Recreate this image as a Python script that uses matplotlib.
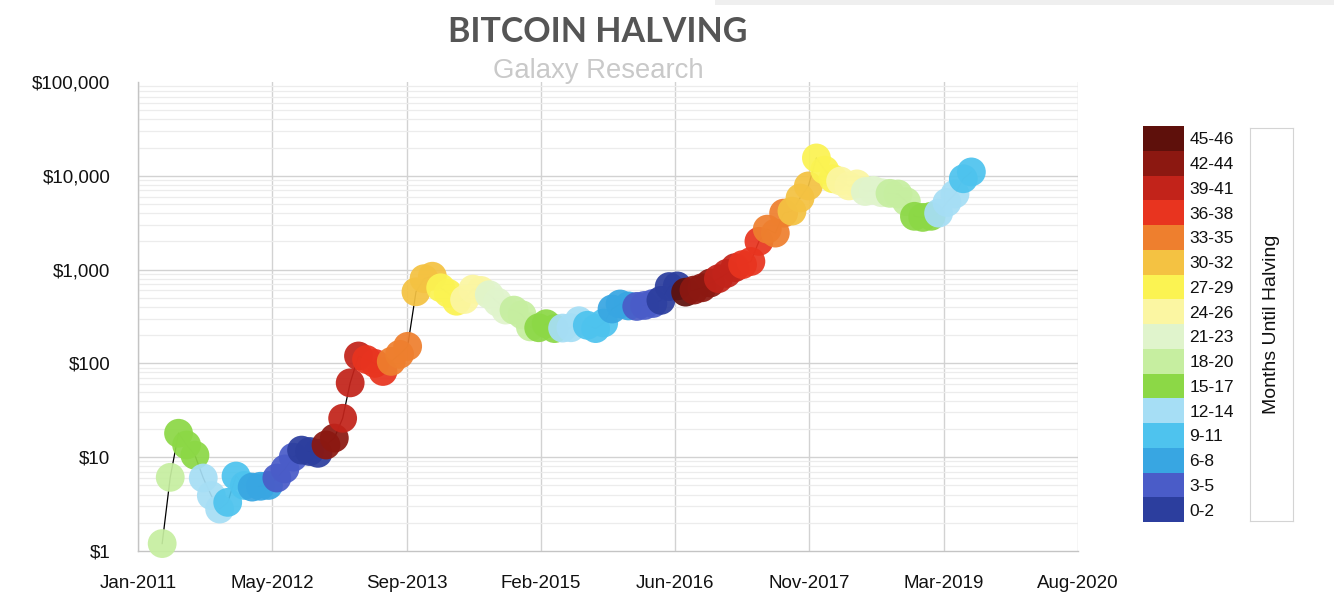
import matplotlib
matplotlib.use("Agg")
import matplotlib.pyplot as plt
import matplotlib.dates as mdates
from matplotlib.ticker import FixedLocator, NullFormatter
import numpy as np
import pandas as pd

# monthly average BTC price, Apr 2011 .. Jul 2019
START_MONTH = "2011-04-01"
prices = [
    # 2011 Apr-Dec
    1.2, 6.1, 18, 13.5, 10.5, 6.0, 3.9, 2.8, 3.3,
    # 2012
    6.3, 5.0, 4.8, 4.9, 5.0, 6.0, 7.5, 10.0, 11.9, 11.5, 11.0, 13.5,
    # 2013
    16, 26, 62, 120, 110, 100, 82, 105, 125, 152, 580, 800,
    # 2014
    850, 640, 560, 460, 480, 620, 600, 540, 450, 370, 370, 330,
    # 2015
    245, 240, 265, 235, 238, 240, 285, 255, 235, 270, 380, 430,
    # 2016
    410, 405, 415, 435, 470, 660, 670, 575, 605, 640, 720, 800,
    # 2017
    910, 1050, 1130, 1220, 2000, 2700, 2450, 4000, 4200, 5800, 7800, 15500,
    # 2018
    11500, 9300, 8800, 7800, 8200, 6800, 7000, 6600, 6500, 6400, 5300, 3700,
    # 2019 Jan-Jul
    3600, 3700, 4000, 5200, 6400, 9300, 11000,
]

halving_dates = ["2012-11-28", "2016-07-09", "2020-05-11"]

bin_labels = ["0-2", "3-5", "6-8", "9-11", "12-14", "15-17", "18-20", "21-23",
              "24-26", "27-29", "30-32", "33-35", "36-38", "39-41", "42-44", "45-46"]
bin_colors = ["#2c3e9e", "#4a5cc8", "#38a6e2", "#4ec3ee", "#a6def5", "#8cd846",
              "#c6eea0", "#e0f4cc", "#fbf6a2", "#fbf352", "#f4c242", "#ee7f2e",
              "#e8341f", "#c2231a", "#8c1811", "#5e100b"]

x_ticks = pd.date_range("2011-01-01", periods=8, freq="500D")
y_ticks = [1, 10, 100, 1000, 10000, 100000]
y_tick_labels = ["$1", "$10", "$100", "$1,000", "$10,000", "$100,000"]

W, H = 1334, 614


def months_until_halving(dates):
    halvings = pd.to_datetime(halving_dates)
    out = []
    for d in dates:
        h = [x for x in halvings if x > d][0]
        out.append((h.year - d.year) * 12 + h.month - d.month)
    return np.array(out)


def fx(px):
    return px / W


def fy(py):
    return 1 - py / H


dates = pd.date_range(START_MONTH, periods=len(prices), freq="MS")
months_left = months_until_halving(dates)
bins = np.minimum(months_left // 3, len(bin_labels) - 1)
point_colors = [bin_colors[b] for b in bins]

plt.rcParams["font.family"] = ["Liberation Sans", "DejaVu Sans"]

fig = plt.figure(figsize=(W / 100, H / 100), dpi=100)
fig.patches.append(plt.Rectangle((fx(715), fy(5)), fx(W - 715), 5 / H,
                                 transform=fig.transFigure, color="#efefef", lw=0))

ax = fig.add_axes([fx(138), fy(551), fx(1078 - 138), (551 - 82) / H])
ax.set_yscale("log")
ax.set_ylim(1, 100000)
ax.set_xlim(pd.Timestamp("2011-01-01"), pd.Timestamp("2020-08-01"))

# grid: decade lines below the top edge, lighter minor lines, date lines
ax.yaxis.set_major_locator(FixedLocator(y_ticks))
ax.set_yticklabels(y_tick_labels)
minor = [m * 10 ** e for e in range(0, 5) for m in range(2, 10)]
ax.yaxis.set_minor_locator(FixedLocator(minor))
ax.yaxis.set_minor_formatter(NullFormatter())
ax.grid(True, which="minor", axis="y", color="#ececec", lw=0.9)
for yv in y_ticks[1:-1]:
    ax.axhline(yv, color="#d2d2d2", lw=1.0, zorder=0.5)
ax.set_xticks(x_ticks)
ax.xaxis.set_major_formatter(mdates.DateFormatter("%b-%Y"))
ax.grid(True, which="major", axis="x", color="#d2d2d2", lw=1.0)
ax.set_axisbelow(True)

for s in ["top", "right"]:
    ax.spines[s].set_visible(False)
for s in ["left", "bottom"]:
    ax.spines[s].set_color("#c4c4c4")
    ax.spines[s].set_linewidth(1.0)
ax.tick_params(axis="both", which="both", length=0, labelsize=13.5, colors="#111111")
ax.tick_params(axis="y", pad=20)
ax.tick_params(axis="x", pad=17)

# path and points
ax.plot(dates, prices, color="black", lw=0.9, zorder=2)
ax.scatter(dates, prices, c=point_colors, s=430, alpha=0.93, edgecolors="none",
           zorder=3, clip_on=False)

# titles
fig.text(fx(598), fy(42), "BITCOIN HALVING", ha="center", va="baseline",
         fontsize=24.5, fontweight="bold", color="#555555", family=["Lato", "DejaVu Sans"])
fig.text(fx(598), fy(78), "Galaxy Research", ha="center", va="baseline",
         fontsize=19.8, color="#c9c9c9")

# colour legend
lax = fig.add_axes([fx(1143), fy(522), fx(1184 - 1143), (522 - 126) / H])
lax.barh(np.arange(len(bin_labels)), 1, height=1, color=bin_colors, align="edge")
lax.set_xlim(0, 1)
lax.set_ylim(0, len(bin_labels))
lax.set_xticks([])
lax.yaxis.tick_right()
lax.set_yticks(np.arange(len(bin_labels)) + 0.5)
lax.set_yticklabels(bin_labels)
lax.tick_params(length=0, labelsize=12.5, pad=4, colors="#111111")
for s in lax.spines.values():
    s.set_visible(False)

box = fig.add_axes([fx(1250), fy(521), fx(1293 - 1250), (521 - 128) / H])
box.set_xticks([])
box.set_yticks([])
for s in box.spines.values():
    s.set_color("#d4d4d4")
box.text(0.5, 0.5, "Months Until Halving", rotation=90, ha="center", va="center",
         fontsize=14, color="#111111", transform=box.transAxes)

fig.savefig("out.png", dpi=100)
